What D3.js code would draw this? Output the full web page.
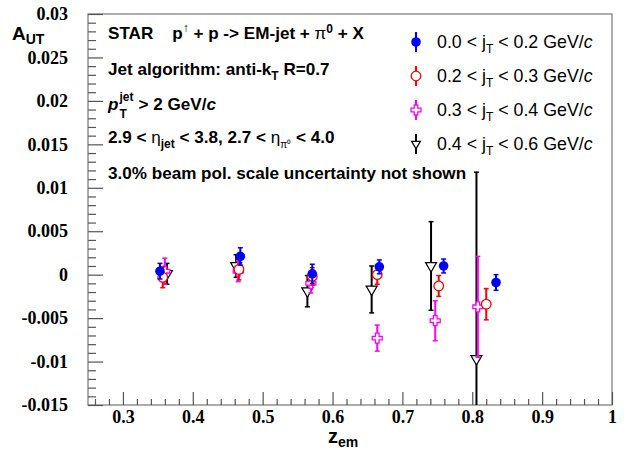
<!DOCTYPE html>
<html><head><meta charset="utf-8">
<script src="https://cdn.jsdelivr.net/npm/d3@7/dist/d3.min.js"></script>
<style>body{margin:0;background:#fff}svg{display:block}</style>
</head><body>
<svg id="c" width="629" height="450"></svg>
<script>
// ---- data ----
const zBlue = [0.353, 0.468, 0.571, 0.667, 0.759, 0.834];
const aBlue = [0.0004, 0.0021, 0.0001, 0.0009, 0.0010, -0.0009];
const eBlue = [0.0009, 0.0010, 0.0011, 0.0008, 0.0008, 0.0009];

const zRed = [0.357, 0.466, 0.571, 0.664, 0.752, 0.820];
const aRed = [-0.0003, 0.0006, -0.0002, 0.0000, -0.0013, -0.0034];
const eRed = [0.0012, 0.0012, 0.0010, 0.0011, 0.0012, 0.0018];

const zMag = [0.360, 0.465, 0.569, 0.664, 0.747, 0.808];
const aMag = [0.0004, 0.0004, -0.0010, -0.0073, -0.0053, -0.0037];
const eMag = [0.0015, 0.0012, 0.0011, 0.0015, 0.0023, 0.0058];

const zBlk = [0.363, 0.462, 0.564, 0.656, 0.741, 0.806];
const aBlk = [0.0001, 0.0010, -0.0019, -0.0017, 0.0010, -0.0097];
const eBlk = [0.0012, 0.0013, 0.0018, 0.0027, 0.0051, 0.0215];

const xTicks = [0.3, 0.4, 0.5, 0.6, 0.7, 0.8, 0.9, 1];
const xTickLabels = ["0.3","0.4","0.5","0.6","0.7","0.8","0.9","1"];
const yTicks = [-0.015, -0.01, -0.005, 0, 0.005, 0.01, 0.015, 0.02, 0.025, 0.03];
const yTickLabels = ["-0.015","-0.01","-0.005","0","0.005","0.01","0.015","0.02","0.025","0.03"];

const seriesLabels = [
  ["0.0", "0.2"], ["0.2", "0.3"], ["0.3", "0.4"], ["0.4", "0.6"]
];
const seriesColors = ["#0000ff", "#ff0000", "#ff00ff", "#000000"];
const seriesMarkers = ["fcircle", "ocircle", "ocross", "otri"];

// ---- layout ----
const L = 88, R = 612, T = 14, B = 405;
const svg = d3.select("#c");
const x = d3.scaleLinear().domain([0.25, 1.0]).range([L, R]);
const y = d3.scaleLinear().domain([-0.015, 0.03]).range([B, T]);
const axisColor = "#555";

// frame
svg.append("rect").attr("x", L).attr("y", T).attr("width", R - L).attr("height", B - T)
  .attr("fill", "none").attr("stroke", "#777").attr("stroke-width", 1.2);

// x axis (ticks inward)
const xMinor = d3.range(0.26, 1.0001, 0.02).map(v => +v.toFixed(2)).filter(v => !xTicks.some(t => Math.abs(t - v) < 1e-6));
const gx = svg.append("g").attr("transform", `translate(0,${B})`);
gx.call(d3.axisBottom(x).tickValues(xTicks).tickSize(-13).tickFormat((d, i) => xTickLabels[i]).tickPadding(5));
gx.select(".domain").remove();
gx.selectAll(".tick line").attr("stroke", axisColor).attr("stroke-width", 1.2);
gx.selectAll(".tick text").attr("font-family", "'Liberation Serif','Times New Roman',serif")
  .attr("font-weight", "bold").attr("font-size", 18).attr("fill", "#000");
const gx2 = svg.append("g").attr("transform", `translate(0,${B})`);
gx2.call(d3.axisBottom(x).tickValues(xMinor).tickSize(-6).tickFormat(""));
gx2.select(".domain").remove();
gx2.selectAll(".tick line").attr("stroke", axisColor).attr("stroke-width", 1.2);

// y axis
const yMinor = d3.range(-0.015, 0.03001, 0.001).map(v => +v.toFixed(3)).filter(v => !yTicks.some(t => Math.abs(t - v) < 1e-7));
const gy = svg.append("g").attr("transform", `translate(${L},0)`);
gy.call(d3.axisLeft(y).tickValues(yTicks).tickSize(-15).tickFormat((d, i) => yTickLabels[i]).tickPadding(20));
gy.select(".domain").remove();
gy.selectAll(".tick line").attr("stroke", axisColor).attr("stroke-width", 1.2);
gy.selectAll(".tick text").attr("font-family", "'Liberation Serif','Times New Roman',serif")
  .attr("font-weight", "bold").attr("font-size", 18).attr("fill", "#000");
const gy2 = svg.append("g").attr("transform", `translate(${L},0)`);
gy2.call(d3.axisLeft(y).tickValues(yMinor).tickSize(-8).tickFormat(""));
gy2.select(".domain").remove();
gy2.selectAll(".tick line").attr("stroke", axisColor).attr("stroke-width", 1.2);

// axis titles
const sans = "'Liberation Sans',Arial,Helvetica,sans-serif";
const yt = svg.append("text").attr("x", 12).attr("y", 40).attr("font-family", sans).attr("font-weight", "bold").attr("font-size", 19);
yt.append("tspan").text("A");
yt.append("tspan").attr("font-size", 14).attr("dy", 4).text("UT");
const xt = svg.append("text").attr("x", 328).attr("y", 443).attr("font-family", sans).attr("font-weight", "bold").attr("font-size", 20);
xt.append("tspan").text("z");
xt.append("tspan").attr("font-size", 14).attr("dy", 4).text("em");

// clip
svg.append("clipPath").attr("id", "clip").append("rect").attr("x", L).attr("y", T).attr("width", R - L).attr("height", B - T);
const plot = svg.append("g").attr("clip-path", "url(#clip)");

// markers
function drawMarker(g, type, cx, cy, color, k) {
  k = k || 1;
  const r = 4.8 * k;
  if (type === "fcircle") {
    g.append("circle").attr("cx", cx).attr("cy", cy).attr("r", r).attr("fill", color);
  } else if (type === "ocircle") {
    g.append("circle").attr("cx", cx).attr("cy", cy).attr("r", r).attr("fill", "#fff").attr("stroke", color).attr("stroke-width", 1.3);
  } else if (type === "ocross") {
    const a = 5 * k, w = 1.8 * k;
    const p = [[-w,-a],[w,-a],[w,-w],[a,-w],[a,w],[w,w],[w,a],[-w,a],[-w,w],[-a,w],[-a,-w],[-w,-w]];
    g.append("path").attr("d", "M" + p.map(q => (cx + q[0]) + "," + (cy + q[1])).join("L") + "Z")
      .attr("fill", "#fff").attr("stroke", color).attr("stroke-width", 1.3);
  } else if (type === "otri") {
    const s = 5.5 * k;
    g.append("path").attr("d", `M${cx - s},${cy - s * 0.6}L${cx + s},${cy - s * 0.6}L${cx},${cy + s * 1.1}Z`)
      .attr("fill", "#fff").attr("stroke", color).attr("stroke-width", 1.2);
  }
}

function drawSeries(zs, as, es, color, type) {
  const g = plot.append("g");
  zs.forEach((z, i) => {
    const cx = x(z), y1 = y(as[i] + es[i]), y0 = y(as[i] - es[i]);
    g.append("line").attr("x1", cx).attr("x2", cx).attr("y1", y1).attr("y2", y0).attr("stroke", color).attr("stroke-width", 2);
    [y1, y0].forEach(yy => g.append("line").attr("x1", cx - 2.5).attr("x2", cx + 2.5).attr("y1", yy).attr("y2", yy).attr("stroke", color).attr("stroke-width", 1.5));
  });
  zs.forEach((z, i) => drawMarker(g, type, x(z), y(as[i]), color));
}
drawSeries(zBlk, aBlk, eBlk, seriesColors[3], seriesMarkers[3]);
drawSeries(zMag, aMag, eMag, seriesColors[2], seriesMarkers[2]);
drawSeries(zRed, aRed, eRed, seriesColors[1], seriesMarkers[1]);
drawSeries(zBlue, aBlue, eBlue, seriesColors[0], seriesMarkers[0]);

// legend
const legY = [48, 82, 116, 150];
seriesLabels.forEach((lab, i) => {
  const g = svg.append("g");
  const cy = legY[i] - 6;
  g.append("line").attr("x1", 416).attr("x2", 416).attr("y1", cy - 10).attr("y2", cy + 10).attr("stroke", seriesColors[i]).attr("stroke-width", 2);
  drawMarker(g, seriesMarkers[i], 416, cy, seriesColors[i], i === 3 ? 0.8 : 1);
  const t = g.append("text").attr("x", 437).attr("y", legY[i]).attr("font-family", sans).attr("font-size", 17.8).attr("fill", "#000");
  t.append("tspan").text(lab[0] + " < j");
  t.append("tspan").attr("font-size", 12).attr("dy", 5).text("T");
  t.append("tspan").attr("dy", -5).text(" < " + lab[1] + " GeV/");
  t.append("tspan").attr("font-style", "italic").text("c");
});

// annotations
const fs = 17.1;
function ann(yb, xx) {
  return svg.append("text").attr("x", xx || 108).attr("y", yb).attr("font-family", sans).attr("font-weight", "bold").attr("font-size", fs).attr("fill", "#000");
}
let t1 = ann(39);
t1.append("tspan").text("STAR\u00a0\u00a0\u00a0\u00a0p");
t1.append("tspan").attr("font-size", 12).attr("font-weight", "normal").attr("dy", -7).text("\u2191");
t1.append("tspan").attr("dy", 7).text(" + p -> EM-jet + ");
t1.append("tspan").attr("font-weight", "normal").text("\u03c0");
t1.append("tspan").attr("font-size", 12).attr("dy", -6).text("0");
t1.append("tspan").attr("dy", 6).text(" + X");

let t2 = ann(75);
t2.append("tspan").text("Jet algorithm: anti-k");
t2.append("tspan").attr("font-size", 12).attr("dy", 5).text("T");
t2.append("tspan").attr("dy", -5).text(" R=0.7");

// p_T^jet (stacked super/subscript as separate texts)
const p3 = ann(110);
p3.attr("font-style", "italic").text("p");
const pw = p3.node().getComputedTextLength();
const sup3 = svg.append("text").attr("x", 108 + pw + 1).attr("y", 101).attr("font-family", sans).attr("font-weight", "bold").attr("font-size", 12).text("jet");
svg.append("text").attr("x", 108 + pw + 1).attr("y", 118).attr("font-family", sans).attr("font-weight", "bold").attr("font-size", 12).text("T");
const jw = sup3.node().getComputedTextLength();
let t3 = ann(110, 108 + pw + 1 + jw + 5);
t3.append("tspan").text("> 2 GeV/");
t3.append("tspan").attr("font-style", "italic").text("c");

let t4 = ann(143);
t4.append("tspan").text("2.9 < ");
t4.append("tspan").attr("font-weight", "normal").text("\u03b7");
t4.append("tspan").attr("font-size", 12).attr("dy", 5).text("jet");
t4.append("tspan").attr("dy", -5).text(" < 3.8, 2.7 < ");
t4.append("tspan").attr("font-weight", "normal").text("\u03b7");
t4.append("tspan").attr("font-size", 10).attr("font-weight", "normal").attr("dy", 5).text("\u03c0\u2070");
t4.append("tspan").attr("dy", -5).text(" < 4.0");

let t5 = ann(179);
t5.text("3.0% beam pol. scale uncertainty not shown");
</script>
</body></html>
